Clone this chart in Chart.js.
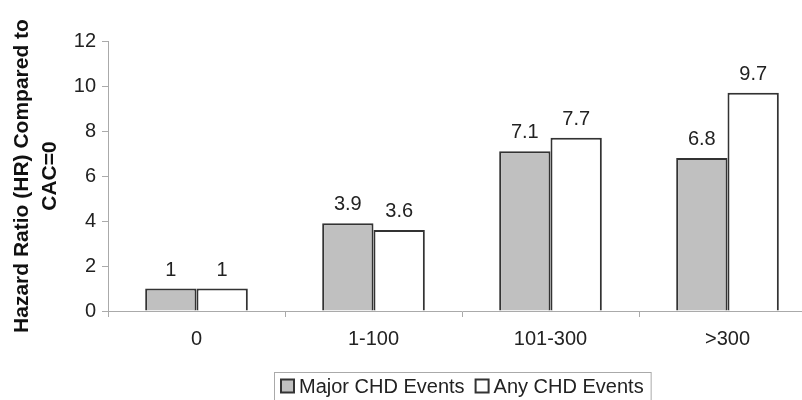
<!DOCTYPE html>
<html>
<head>
<meta charset="utf-8">
<script src="https://cdn.jsdelivr.net/npm/chart.js@4/dist/chart.umd.min.js"></script>
<style>
  html, body { margin: 0; padding: 0; background: #fff; overflow: hidden; }
  #wrap { width: 820px; height: 400px; }
</style>
</head>
<body>
<div id="wrap"><canvas id="hrChart"></canvas></div>
<script>
// data
const categories = ["0", "1-100", "101-300", ">300"];
const majorEvents = [1, 3.9, 7.1, 6.8];
const anyEvents = [1, 3.6, 7.7, 9.7];
const yTicks = [0, 2, 4, 6, 8, 10, 12];

const FONT = "'Liberation Sans', Arial, sans-serif";

// values above each bar
const valueLabels = {
  id: "valueLabels",
  afterDatasetsDraw(chart) {
    const ctx = chart.ctx;
    ctx.save();
    ctx.font = "20px " + FONT;
    ctx.fillStyle = "#222";
    ctx.textAlign = "center";
    ctx.textBaseline = "alphabetic";
    chart.data.datasets.forEach((ds, i) => {
      chart.getDatasetMeta(i).data.forEach((bar, j) => {
        ctx.fillText(String(ds.data[j]), bar.x, bar.y - 13);
      });
    });
    ctx.restore();
  },
};

// legend in a thin frame under the axis, boxes tight to the text
const framedLegend = {
  id: "framedLegend",
  afterDraw(chart) {
    const ctx = chart.ctx;
    const area = chart.chartArea;
    const box = 13, gap = 5, between = 11, pad = 7;
    ctx.save();
    ctx.font = "20px " + FONT;
    const items = chart.data.datasets.map((ds) => ({
      ds,
      w: box + gap + ctx.measureText(ds.label).width,
    }));
    const total = items.reduce((s, it) => s + it.w, 0) + between * (items.length - 1);
    let x = Math.round((area.left + area.right) / 2 - total / 2);
    const midY = 386;

    ctx.strokeStyle = "#aaa";
    ctx.lineWidth = 1;
    ctx.strokeRect(x - pad + 0.5, 372.5, total + pad * 2, 40);

    ctx.textBaseline = "middle";
    ctx.fillStyle = "#222";
    items.forEach((it) => {
      ctx.fillStyle = it.ds.backgroundColor;
      ctx.fillRect(x, midY - box / 2, box, box);
      ctx.strokeStyle = it.ds.borderColor;
      ctx.lineWidth = 2;
      ctx.strokeRect(x, midY - box / 2, box, box);
      ctx.fillStyle = "#222";
      ctx.fillText(it.ds.label, x + box + gap, midY + 1);
      x += it.w + between;
    });
    ctx.restore();
  },
};

new Chart(document.getElementById("hrChart"), {
  type: "bar",
  data: {
    labels: categories,
    datasets: [
      {
        label: "Major CHD Events",
        data: majorEvents,
        backgroundColor: "#c0c0c0",
        borderColor: "#333",
        borderWidth: 2,
        categoryPercentage: 0.58,
        barPercentage: 1.0,
      },
      {
        label: "Any CHD Events",
        data: anyEvents,
        backgroundColor: "#fff",
        borderColor: "#333",
        borderWidth: 2,
        categoryPercentage: 0.58,
        barPercentage: 1.0,
      },
    ],
  },
  options: {
    responsive: true,
    maintainAspectRatio: false,
    animation: false,
    layout: { padding: { top: 41, right: 4, left: 0, bottom: 49 } },
    scales: {
      x: {
        grid: {
          offset: true,
          drawOnChartArea: false,
          tickLength: 6,
          color: "#aaa",
        },
        border: { color: "#aaa" },
        ticks: { color: "#222", font: { family: FONT, size: 20 }, padding: 10 },
        afterFit(scale) { scale.height = 40; },
      },
      y: {
        min: 0,
        max: 12,
        afterBuildTicks(scale) { scale.ticks = yTicks.map((v) => ({ value: v })); },
        grid: { drawOnChartArea: false, tickLength: 6, color: "#aaa" },
        border: { color: "#aaa" },
        ticks: { color: "#222", font: { family: FONT, size: 20 }, padding: 6 },
        title: {
          display: true,
          text: ["Hazard Ratio (HR) Compared to", "CAC=0"],
          color: "#111",
          font: { family: FONT, size: 21, weight: "bold", lineHeight: 1.35 },
          padding: { top: 8, bottom: 2 },
        },
        afterFit(scale) { scale.width = 108; },
      },
    },
    plugins: {
      legend: { display: false },
      tooltip: { enabled: false },
    },
  },
  plugins: [valueLabels, framedLegend],
});
</script>
</body>
</html>
